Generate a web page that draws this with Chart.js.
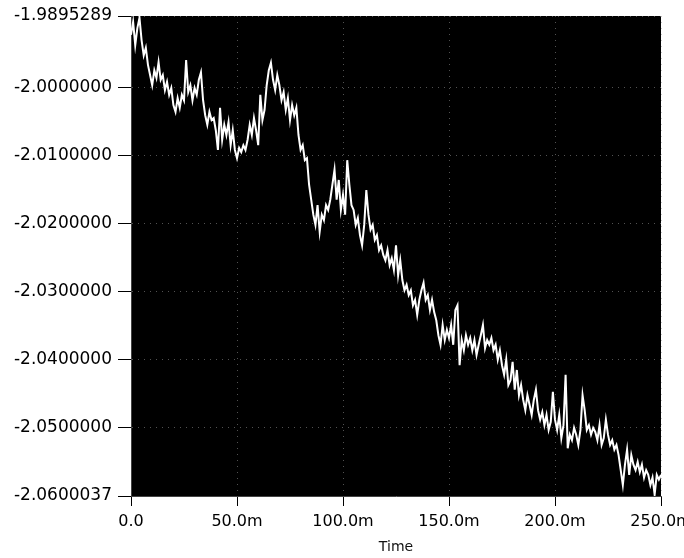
<!DOCTYPE html>
<html>
<head>
<meta charset="utf-8">
<script src="https://cdn.jsdelivr.net/npm/chart.js@4/dist/chart.umd.min.js"></script>
<style>
  html, body { margin: 0; padding: 0; background: #fff; }
  canvas { display: block; }
</style>
</head>
<body>
<canvas id="c" width="684" height="558"></canvas>
<script>
// Sample period of the acquisition (ms per sample)
const SAMPLE_MS = 1;

// Y axis limits and the tick values shown between them
const Y_MIN = -2.0600037;
const Y_MAX = -1.9895289;
const yTickValues = [-2.05, -2.04, -2.03, -2.02, -2.01, -2.00];

// X axis range (ms) and tick spacing
const X_MIN = 0;
const X_MAX = 250;
const X_STEP = 50;

// Recorded signal, one value per millisecond
const signal = [
  -1.9923, -1.9904, -1.9938, -1.9913, -1.9898,
  -1.9931, -1.9953, -1.9942, -1.9967, -1.9982,
  -1.9997, -1.9975, -1.9986, -1.9963, -1.9989,
  -1.9982, -2.0004, -1.9992, -2.0011, -2.0001,
  -2.0026, -2.0036, -2.0016, -2.0030, -2.0011,
  -2.0019, -1.9960, -2.0007, -1.9997, -2.0019,
  -2.0001, -2.0011, -1.9989, -1.9978, -2.0019,
  -2.0041, -2.0055, -2.0036, -2.0048, -2.0045,
  -2.0063, -2.0092, -2.0030, -2.0077, -2.0055,
  -2.0070, -2.0051, -2.0085, -2.0063, -2.0092,
  -2.0104, -2.0089, -2.0095, -2.0085, -2.0092,
  -2.0077, -2.0055, -2.0070, -2.0045, -2.0063,
  -2.0085, -2.0011, -2.0048, -2.0033, -1.9997,
  -1.9975, -1.9964, -1.9989, -2.0004, -1.9982,
  -1.9997, -2.0019, -2.0007, -2.0033, -2.0016,
  -2.0048, -2.0026, -2.0041, -2.0030, -2.0070,
  -2.0092, -2.0085, -2.0107, -2.0104, -2.0143,
  -2.0165, -2.0187, -2.0202, -2.0173, -2.0212,
  -2.0187, -2.0195, -2.0173, -2.0180, -2.0165,
  -2.0143, -2.0121, -2.0165, -2.0136, -2.0180,
  -2.0158, -2.0187, -2.0107, -2.0143, -2.0173,
  -2.0180, -2.0202, -2.0192, -2.0217, -2.0232,
  -2.0202, -2.0151, -2.0187, -2.0209, -2.0202,
  -2.0224, -2.0217, -2.0239, -2.0232, -2.0246,
  -2.0254, -2.0239, -2.0261, -2.0251, -2.0268,
  -2.0232, -2.0276, -2.0254, -2.0283, -2.0298,
  -2.0290, -2.0305, -2.0298, -2.0320, -2.0312,
  -2.0334, -2.0312, -2.0298, -2.0287, -2.0312,
  -2.0305, -2.0327, -2.0312, -2.0330, -2.0342,
  -2.0364, -2.0378, -2.0349, -2.0371, -2.0356,
  -2.0368, -2.0349, -2.0378, -2.0327, -2.0320,
  -2.0408, -2.0371, -2.0386, -2.0364, -2.0378,
  -2.0368, -2.0386, -2.0371, -2.0393, -2.0378,
  -2.0364, -2.0349, -2.0383, -2.0371, -2.0378,
  -2.0368, -2.0386, -2.0378, -2.0400, -2.0386,
  -2.0408, -2.0422, -2.0400, -2.0437, -2.0430,
  -2.0403, -2.0444, -2.0415, -2.0452, -2.0437,
  -2.0459, -2.0474, -2.0452, -2.0466, -2.0481,
  -2.0459, -2.0444, -2.0474, -2.0488, -2.0477,
  -2.0496, -2.0481, -2.0503, -2.0491, -2.0447,
  -2.0488, -2.0503, -2.0481, -2.0515, -2.0496,
  -2.0422, -2.0530, -2.0510, -2.0518, -2.0500,
  -2.0510, -2.0525, -2.0503, -2.0452, -2.0474,
  -2.0503, -2.0496, -2.0510, -2.0500, -2.0506,
  -2.0518, -2.0496, -2.0525, -2.0515, -2.0488,
  -2.0510, -2.0525, -2.0518, -2.0532, -2.0525,
  -2.0540, -2.0562, -2.0584, -2.0554, -2.0532,
  -2.0569, -2.0540, -2.0554, -2.0562, -2.0550,
  -2.0565, -2.0554, -2.0573, -2.0562, -2.0569,
  -2.0584, -2.0573, -2.0598, -2.0569, -2.0576,
  -2.0569
];

const points = signal.map((v, i) => ({ x: i * SAMPLE_MS, y: v }));

// Black plotting area behind the grid and trace
const plotBackground = {
  id: 'plotBackground',
  beforeDraw(chart) {
    const { ctx, chartArea: a } = chart;
    ctx.save();
    ctx.fillStyle = '#000';
    ctx.fillRect(a.left, a.top, a.right - a.left, a.bottom - a.top);
    ctx.restore();
  }
};

const FONT = 'DejaVu Sans';

new Chart(document.getElementById('c'), {
  type: 'line',
  data: {
    datasets: [{
      data: points,
      borderColor: '#fff',
      borderWidth: 2,
      pointRadius: 0,
      tension: 0,
      fill: false
    }]
  },
  options: {
    responsive: false,
    animation: false,
    devicePixelRatio: 1,
    layout: { padding: { left: 0, top: 16, right: 23, bottom: 0 } },
    plugins: { legend: { display: false }, tooltip: { enabled: false } },
    scales: {
      x: {
        type: 'linear',
        min: X_MIN,
        max: X_MAX,
        afterFit: s => {
          s.height = 62;
          // let the last tick label run past the canvas edge
          s.paddingLeft = 0;
          s.paddingRight = 0;
        },
        ticks: {
          stepSize: X_STEP,
          color: '#000',
          font: { family: FONT, size: 16 },
          padding: 6,
          maxRotation: 0,
          callback: v => v === 0 ? '0.0' : v.toFixed(1) + 'm'
        },
        grid: {
          color: 'rgba(150,150,150,0.55)',
          tickColor: '#000',
          tickLength: 10,
          tickBorderDash: [],
          lineWidth: 1
        },
        border: { display: true, color: '#444', dash: [1, 5] },
        title: {
          display: true,
          text: 'Time',
          color: '#111',
          font: { family: FONT, size: 14 },
          padding: { top: 0, bottom: 2 }
        }
      },
      y: {
        type: 'linear',
        min: Y_MIN,
        max: Y_MAX,
        afterFit: s => { s.width = 131; s.paddingTop = 0; s.paddingBottom = 0; },
        afterBuildTicks: s => {
          s.ticks = [Y_MIN, ...yTickValues, Y_MAX].map(v => ({ value: v }));
        },
        ticks: {
          color: '#000',
          font: { family: FONT, size: 17 },
          padding: 6,
          callback: v => v.toFixed(7)
        },
        grid: {
          color: 'rgba(150,150,150,0.55)',
          tickColor: '#000',
          tickLength: 13,
          tickBorderDash: [],
          lineWidth: 1
        },
        border: { display: true, color: '#444', dash: [1, 5] }
      }
    }
  },
  plugins: [plotBackground]
});
</script>
</body>
</html>
